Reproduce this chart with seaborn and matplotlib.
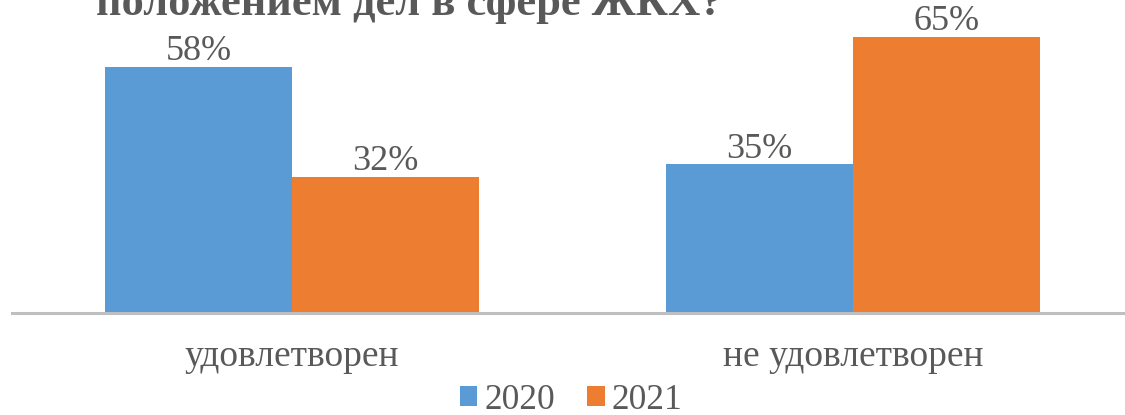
import pandas as pd
import matplotlib
matplotlib.use("Agg")
import matplotlib.pyplot as plt
import seaborn as sns

# Data
categories = ["удовлетворен", "не удовлетворен"]
years = ["2020", "2021"]
values_2020 = [58, 35]
values_2021 = [32, 65]
title_text = "положением дел в сфере ЖКХ?"

df = pd.DataFrame({
    "category": categories * 2,
    "year": [years[0]] * 2 + [years[1]] * 2,
    "value": values_2020 + values_2021,
})

sns.set_style("white")
plt.rcParams["font.family"] = ["Liberation Serif", "DejaVu Serif"]
text_color = "#595959"
palette = {"2020": "#5B9BD5", "2021": "#ED7D31"}

fig = plt.figure(figsize=(11.25, 4.15), dpi=100)
ax = fig.add_axes([11.5 / 1125, 102 / 415, 1122 / 1125, 297 / 415])

sns.barplot(data=df, x="category", y="value", hue="year", order=categories,
            hue_order=years, palette=palette, width=0.667, gap=0,
            saturation=1, linewidth=0, ax=ax)

ax.set_xlim(-0.5, 1.5)
ax.set_ylim(0, 70)
ax.set_xlabel("")
ax.set_ylabel("")
ax.set_yticks([])
for side in ["left", "right", "top"]:
    ax.spines[side].set_visible(False)
ax.spines["bottom"].set_color("#BFBFBF")
ax.spines["bottom"].set_linewidth(2.2)
ax.tick_params(axis="x", length=0, pad=19, labelsize=27, labelcolor=text_color)

# value labels
for container in ax.containers:
    for bar in container:
        h = bar.get_height()
        ax.annotate(f"{h:.0f}%", (bar.get_x() + bar.get_width() / 2, h),
                    xytext=(0, 5), textcoords="offset points",
                    ha="center", va="baseline", fontsize=26, color=text_color)

# title, partly cut off at the top like the reference
fig.text(96 / 1125, 1 - 15 / 415, title_text, ha="left", va="baseline",
         fontsize=32, fontweight="bold", color=text_color)

handles, labels = ax.get_legend_handles_labels()
ax.legend(handles, labels, loc="center", bbox_to_anchor=(571 / 1125, 15 / 415),
          bbox_transform=fig.transFigure, ncol=2, frameon=False, fontsize=25.5,
          handlelength=0.5, handleheight=0.5, handletextpad=0.2,
          columnspacing=0.9, labelcolor=text_color)

fig.savefig("out.png", dpi=100)
